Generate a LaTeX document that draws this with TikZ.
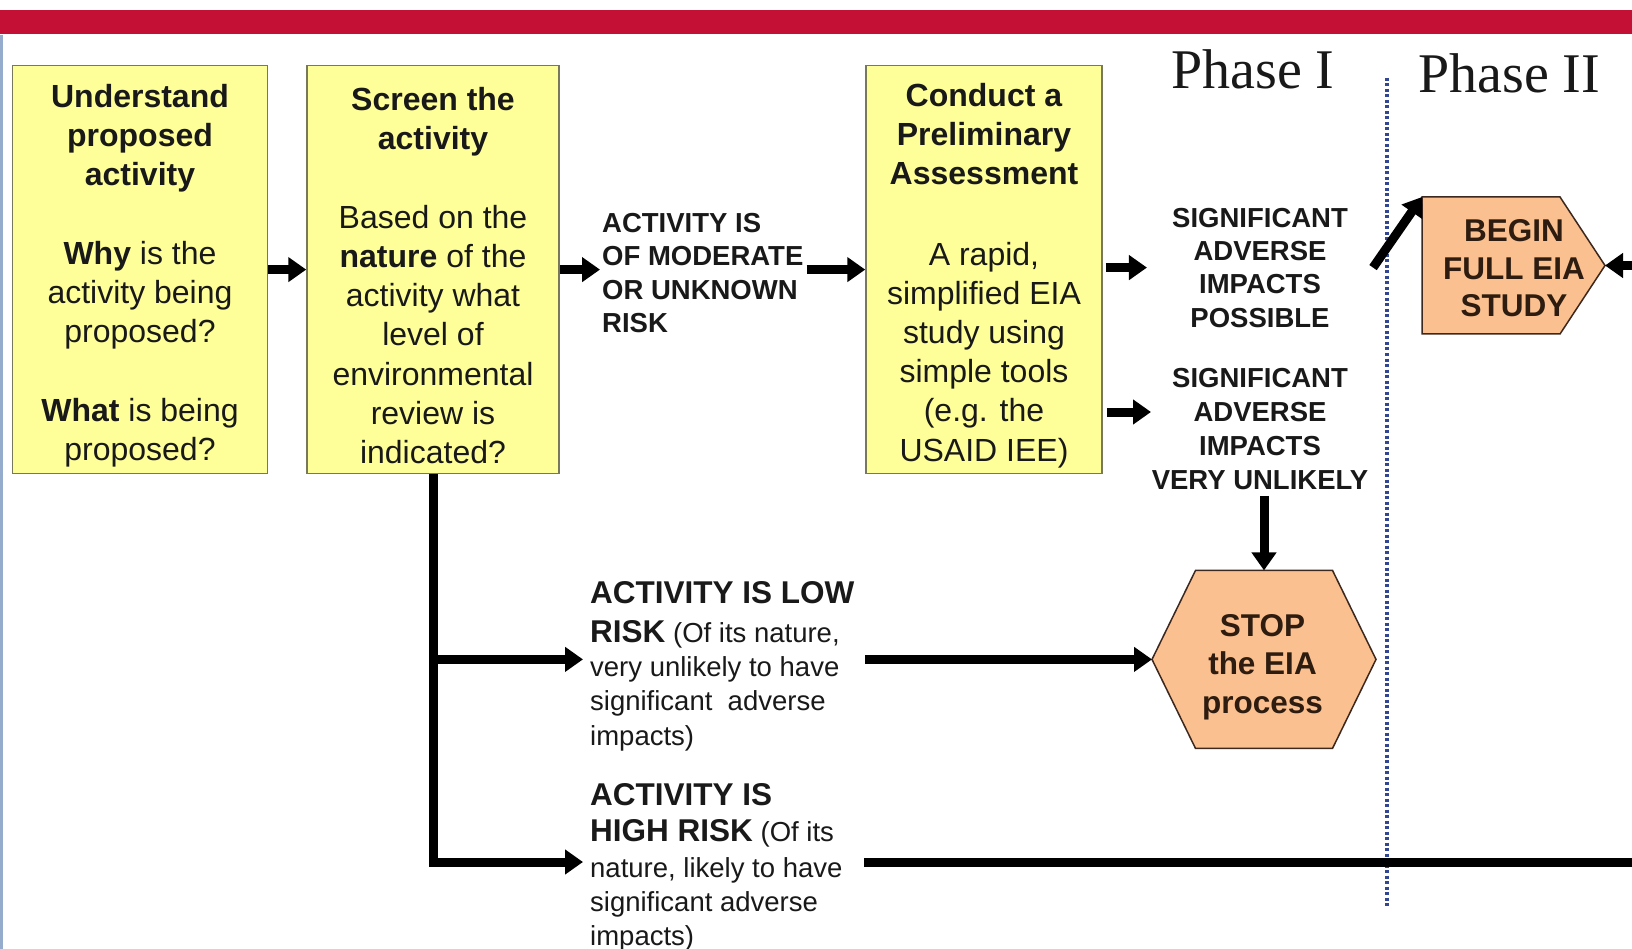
\documentclass[tikz,border=0pt]{standalone}
\usepackage{fontspec}
\setmainfont{Liberation Sans}
\newfontfamily\phasefont{Liberation Serif}
\usetikzlibrary{arrows.meta,calc}
\definecolor{barred}{RGB}{195,16,52}
\definecolor{edgeblue}{RGB}{150,172,205}
\definecolor{boxyellow}{RGB}{255,255,153}
\definecolor{boxborder}{RGB}{120,120,90}
\definecolor{peach}{RGB}{250,192,144}
\definecolor{peachborder}{RGB}{60,40,30}
\definecolor{peachtext}{RGB}{45,28,15}
\definecolor{txt}{RGB}{25,25,25}
\definecolor{dotblue}{RGB}{50,70,145}
\newcommand\riskhead{\fontsize{31.5}{34.5}\selectfont\bfseries}
\begin{document}
\begin{tikzpicture}[x=1pt,y=-1pt,
  ybox/.style={draw=boxborder, line width=1.5pt, fill=boxyellow, minimum height=408pt,
    inner sep=0pt},
  boxtext/.style={inner sep=0pt, align=center, text=txt, font=\fontsize{32}{39.2}\selectfont},
  caplabel/.style={inner sep=0pt, text=txt, font=\fontsize{27.5}{33.3}\selectfont\bfseries},
  risklabel/.style={inner sep=0pt, align=left, anchor=north west, text=txt,
    font=\fontsize{27.5}{34.2}\selectfont},
  conn/.style={line width=9pt, -{Triangle[length=18pt,width=24pt]}},
  plainline/.style={line width=9pt},
  endshape/.style={draw=peachborder, line width=1.5pt, fill=peach, line join=miter},
  endtext/.style={inner sep=0pt, align=center, text=peachtext,
    font=\fontsize{31.5}{38.5}\selectfont\bfseries},
  phase/.style={inner sep=0pt, anchor=base west, text=txt, font=\fontsize{56}{60}\phasefont}]

\fill[white] (0,0) rectangle (1632,949);
\useasboundingbox (0,0) rectangle (1632,949);
\fill[barred] (0,10) rectangle (1632,34);
\fill[edgeblue] (0,35) rectangle (2.5,949);

% phase divider
\coordinate (divTop) at (1387,78);
\coordinate (divBot) at (1387,907);
\draw[dotblue, line width=3.2pt, dash pattern=on 3pt off 2.5pt] (divTop) -- (divBot);

\node[phase] (ph1) at (1171,89) {Phase I};
\node[phase] (ph2) at (1418,92.5) {Phase II};

% yellow boxes
\node[ybox, minimum width=255pt] (b1) at (140,269.6) {};
\node[boxtext] (b1t) at ([yshift=-6pt]b1.center)
  {\textbf{Understand}\\\textbf{proposed}\\\textbf{activity}\\[39.2pt]\textbf{Why} is the\\activity being\\proposed?\\[39.2pt]\textbf{What} is being\\proposed?};
\node[ybox, minimum width=252pt] (b2) at (433,269.6) {};
\node[boxtext] (b2t) at ([yshift=-6pt]b2.center)
  {\textbf{Screen the}\\\textbf{activity}\\[39.2pt]Based on the\\\textbf{nature} of the\\activity what\\level of\\environmental\\review is\\indicated?};
\node[ybox, minimum width=236pt] (b3) at (984,269.6) {};
\node[boxtext] (b3t) at ([yshift=-6pt]b3.center)
  {\textbf{Conduct a}\\\textbf{Preliminary}\\\textbf{Assessment}\\[41pt]A rapid,\\simplified EIA\\study using\\simple tools\\(e.g. the\\USAID IEE)};

% labels
\node[caplabel, anchor=north west, align=left] (mod) at (602,213)
  {ACTIVITY IS\\OF MODERATE\\OR UNKNOWN\\RISK};
\node[caplabel, anchor=north, align=center] (sigP) at (1260,207.7)
  {SIGNIFICANT\\ADVERSE\\IMPACTS\\POSSIBLE};
\node[caplabel, anchor=north, align=center, font=\fontsize{27.5}{34}\selectfont\bfseries] (sigU) at (1260,368)
  {SIGNIFICANT\\ADVERSE\\IMPACTS\\VERY UNLIKELY};

\node[risklabel] (low) at (590,581.5)
  {{\riskhead ACTIVITY IS LOW}\\[4.5pt]{\riskhead RISK} (Of its nature,\\very unlikely to have\\significant\ \ adverse\\impacts)};
\node[risklabel] (high) at (590,783)
  {{\riskhead ACTIVITY IS}\\[2.5pt]{\riskhead HIGH RISK} (Of its\\[1pt]nature, likely to have\\significant adverse\\impacts)};

% STOP hexagon
\coordinate (stopC) at (1264,659.4);
\coordinate (stopW) at ($(stopC)+(-112,0)$);
\coordinate (stopN) at ($(stopC)+(0,-89)$);
\draw[endshape] (stopW) -- ($(stopC)+(-68.5,-89)$) -- ($(stopC)+(68.5,-89)$) -- ($(stopC)+(112,0)$)
  -- ($(stopC)+(68.5,89)$) -- ($(stopC)+(-68.5,89)$) -- cycle;
\node[endtext] (stop) at (1262.5,667) {STOP\\the EIA\\process};

% BEGIN pentagon
\coordinate (begNW) at (1422,197);
\coordinate (begTip) at (1605,265.5);
\draw[endshape] (begNW) -- (1560,197) -- (begTip) -- (1560,334) -- (1422,334) -- cycle;
\node[endtext, text depth=0pt, font=\fontsize{31.5}{37.5}\selectfont\bfseries] (begin) at (1514,268.5) {BEGIN\\FULL EIA\\STUDY};

% connectors
\draw[conn] (b1) -- (b2);
\draw[conn, shorten >=2pt] (b2.east) -- (b2.east -| mod.west);
\draw[conn, shorten <=3pt] (mod.east |- b3.west) -- (b3.west);
\draw[conn, shorten <=3pt] (b3.east |- sigP.west) -- ([xshift=-25pt]sigP.west);
\coordinate (uTip) at (1151,412);
\draw[conn, shorten <=4pt] (b3.east |- uTip) -- (uTip);
\draw[conn] ([yshift=-6pt]sigU.south -| stopN) -- (stopN);
\draw[conn] ([xshift=25pt]sigP.east) -- (begNW);
\coordinate (edgeR) at (1632,265.5);
\draw[conn] (edgeR) -- (begTip);

\coordinate (loTip) at (583,659.4);
\coordinate (hiTip) at (583,862);
\draw[conn, line join=miter] (b2.south) -- (b2.south |- hiTip) -- (hiTip);
\draw[conn] (b2.south |- loTip) -- (loTip);
\coordinate (loOut) at (865,659.4);
\draw[conn] (loOut) -- (stopW);
\coordinate (hiOut) at (864,862);
\coordinate (hiEnd) at (1632,862);
\draw[plainline] (hiOut) -- (hiEnd);
\end{tikzpicture}
\end{document}
